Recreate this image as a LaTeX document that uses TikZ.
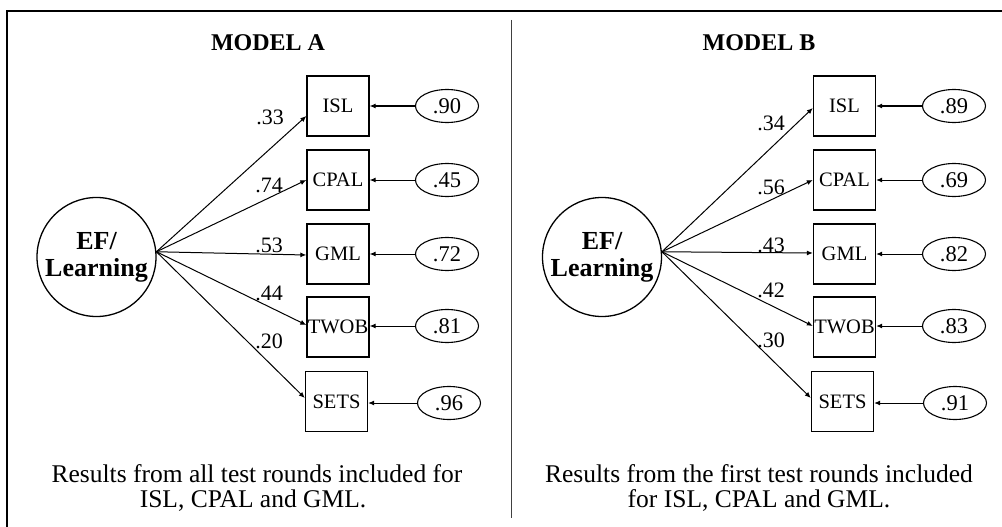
\documentclass[tikz,border=0pt]{standalone}
\usepackage{fontspec}
\setmainfont{Liberation Serif}
\usetikzlibrary{shapes.geometric,arrows.meta}
\begin{document}
\begin{tikzpicture}[x=1pt,y=-1pt,
  obsbox/.style={draw,line width=1.3pt,minimum width=62pt,minimum height=60pt,inner sep=0pt,font=\fontsize{20.5}{23}\selectfont},
  errterm/.style={draw,ellipse,line width=1.1pt,minimum width=63pt,minimum height=33pt,inner sep=0pt,font=\fontsize{22.5}{25}\selectfont},
  latent/.style={draw,circle,line width=1.3pt,minimum size=119pt,inner sep=0pt,align=center,font=\bfseries\fontsize{26}{27}\selectfont},
  loading/.style={line width=1pt,-{Latex[length=6pt,width=5pt]}},
  coef/.style={inner sep=0pt,font=\fontsize{22}{25}\selectfont},
  modeltitle/.style={inner sep=0pt,font=\bfseries\fontsize{24}{27}\selectfont},
  note/.style={inner sep=0pt,anchor=base,font=\fontsize{25.5}{28}\selectfont}]

\useasboundingbox (0,0) rectangle (1002,527);
\fill[white] (0,0) rectangle (1002,527);

% outer frame and panel divider
\draw[line width=2pt] (7,527) -- (7,11) -- (1002,11);
\draw[line width=1pt,black!75] (511.7,20) -- (511.7,518);

% ---------------- Model A ----------------
\node[modeltitle] (titleA) at (268,43) {MODEL A};
\node[latent] (efA) at (96.5,257) {EF/\\Learning};

\node[obsbox] (islA)  at (338,106) {ISL};
\node[obsbox] (cpalA) at (338,180) {CPAL};
\node[obsbox] (gmlA)  at (338,254) {GML};
\node[obsbox] (twobA) at (338,327) {TWOB};
\node[obsbox] (setsA) at (336.5,401.5) {SETS};

\node[errterm] (eislA)  at (447,106) {.90};
\node[errterm] (ecpalA) at (447,180) {.45};
\node[errterm] (egmlA)  at (447,254) {.72};
\node[errterm] (etwobA) at (447,326) {.81};
\node[errterm] (esetsA) at (449,403) {.96};

\draw[loading] (efA.5) -- ([yshift=-10pt]islA.west);
\draw[loading] (efA.5) -- (cpalA.west);
\draw[loading] (efA.5) -- ([yshift=-1pt]gmlA.west);
\draw[loading] (efA.5) -- ([yshift=2pt]twobA.west);
\draw[loading] (efA.5) -- ([yshift=3.5pt]setsA.west);

\draw[loading] (eislA) -- (islA);
\draw[loading] (ecpalA) -- (cpalA);
\draw[loading] (egmlA) -- (gmlA);
\draw[loading] (etwobA) -- (etwobA -| twobA.east);
\draw[loading] (esetsA) -- (esetsA -| setsA.east);

\node[coef] (cislA)  at (270,117) {.33};
\node[coef] (ccpalA) at (269,185) {.74};
\node[coef] (cgmlA)  at (269,245) {.53};
\node[coef] (ctwobA) at (269,293) {.44};
\node[coef] (csetsA) at (269,341) {.20};

\node[note] (noteA1) at (257,482) {Results from all test rounds included for};
\node[note] (noteA2) at (253,507) {ISL, CPAL and GML.};

% ---------------- Model B ----------------
\node[modeltitle] (titleB) at (759,43) {MODEL B};
\node[latent] (efB) at (602,257) {EF/\\Learning};

\node[obsbox] (islB)  at (844.5,106) {ISL};
\node[obsbox] (cpalB) at (844.5,180) {CPAL};
\node[obsbox] (gmlB)  at (844.5,254) {GML};
\node[obsbox] (twobB) at (844.5,327) {TWOB};
\node[obsbox] (setsB) at (842.5,401.5) {SETS};

\node[errterm] (eislB)  at (954,106) {.89};
\node[errterm] (ecpalB) at (954,180) {.69};
\node[errterm] (egmlB)  at (954,254) {.82};
\node[errterm] (etwobB) at (954,326) {.83};
\node[errterm] (esetsB) at (955,403) {.91};

\draw[loading] (efB.5) -- ([yshift=-2pt]islB.west);
\draw[loading] (efB.5) -- (cpalB.west);
\draw[loading] (efB.5) -- ([yshift=1pt]gmlB.west);
\draw[loading] (efB.5) -- ([yshift=1pt]twobB.west);
\draw[loading] (efB.5) -- ([yshift=3.5pt]setsB.west);

\draw[loading] (eislB) -- (islB);
\draw[loading] (ecpalB) -- (cpalB);
\draw[loading] (egmlB) -- (gmlB);
\draw[loading] (etwobB) -- (etwobB -| twobB.east);
\draw[loading] (esetsB) -- (esetsB -| setsB.east);

\node[coef] (cislB)  at (771,123) {.34};
\node[coef] (ccpalB) at (771,187) {.56};
\node[coef] (cgmlB)  at (771,245) {.43};
\node[coef] (ctwobB) at (771,290) {.42};
\node[coef] (csetsB) at (771,340) {.30};

\node[note] (noteB1) at (759,482) {Results from the first test rounds included};
\node[note] (noteB2) at (759,507) {for ISL, CPAL and GML.};
\end{tikzpicture}
\end{document}
